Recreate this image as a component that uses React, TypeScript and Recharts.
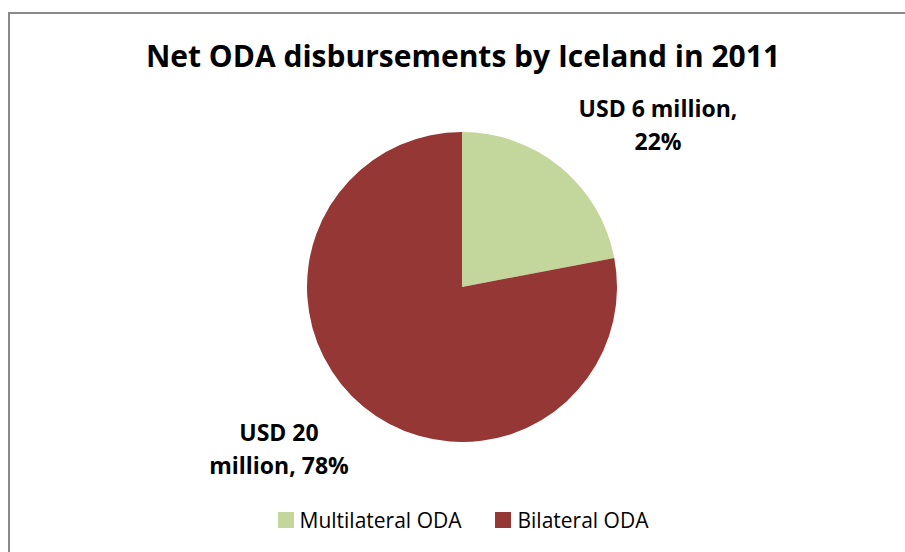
import React from "react";
import { PieChart, Pie, Cell, Legend } from "recharts";

const categories = ["Multilateral ODA", "Bilateral ODA"];
const amounts = [6, 20];
const percents = [22, 78];
const colors = ["#C3D69B", "#953735"];

const data = categories.map((name, i) => ({ name, value: percents[i], amount: amounts[i] }));

const FONT = "'Open Sans', Lato, sans-serif";

const renderLabel = (props: any) => {
  const { cx, cy, index } = props;
  const d = data[index];
  const lines =
    index === 0
      ? [`USD ${d.amount} million,`, `${percents[index]}%`]
      : [`USD ${d.amount}`, `million, ${percents[index]}%`];
  const pos = index === 0 ? { x: cx + 196, y: cy - 170 } : { x: cx - 183, y: cy + 154 };
  return (
    <text
      x={pos.x}
      y={pos.y}
      textAnchor="middle"
      fontFamily={FONT}
      fontWeight="bold"
      fontSize={23}
      fill="#000"
    >
      {lines.map((l, i) => (
        <tspan key={i} x={pos.x} dy={i === 0 ? 0 : 33}>
          {l}
        </tspan>
      ))}
    </text>
  );
};

const renderLegend = () => (
  <div
    style={{
      display: "flex",
      justifyContent: "center",
      fontFamily: FONT,
      fontSize: 21,
      color: "#000",
    }}
  >
    {data.map((d, i) => (
      <div key={d.name} style={{ display: "flex", alignItems: "center", marginRight: i === 0 ? 34 : 0 }}>
        <span style={{ width: 16, height: 16, background: colors[i], display: "inline-block", marginRight: 6 }} />
        <span>{d.name}</span>
      </div>
    ))}
  </div>
);

export default function App() {
  return (
    <div style={{ position: "fixed", left: 0, top: 0, width: 905, height: 552, overflow: "hidden", background: "#fff" }}>
      <div
        style={{
          position: "absolute",
          left: 8,
          top: 12,
          width: 910,
          height: 560,
          borderTop: "2px solid #898989",
          borderLeft: "2px solid #898989",
          boxSizing: "border-box",
          background: "#fff",
        }}
      >
        <div
          style={{
            position: "absolute",
            left: 0,
            width: 906,
            top: 22,
            textAlign: "center",
            fontFamily: FONT,
            fontWeight: "bold",
            fontSize: 30,
            lineHeight: "40px",
            color: "#000",
          }}
        >
          Net ODA disbursements by Iceland in 2011
        </div>
        <PieChart width={906} height={540} margin={{ top: 0, right: 0, bottom: 0, left: 0 }}>
          <Pie
            data={data}
            dataKey="value"
            nameKey="name"
            cx={452}
            cy={273}
            outerRadius={155}
            startAngle={90}
            endAngle={-270}
            stroke="none"
            label={renderLabel}
            labelLine={false}
            isAnimationActive={false}
          >
            {data.map((d, i) => (
              <Cell key={d.name} fill={colors[i]} />
            ))}
          </Pie>
          <Legend content={renderLegend} verticalAlign="bottom" wrapperStyle={{ bottom: 20 }} />
        </PieChart>
      </div>
    </div>
  );
}
